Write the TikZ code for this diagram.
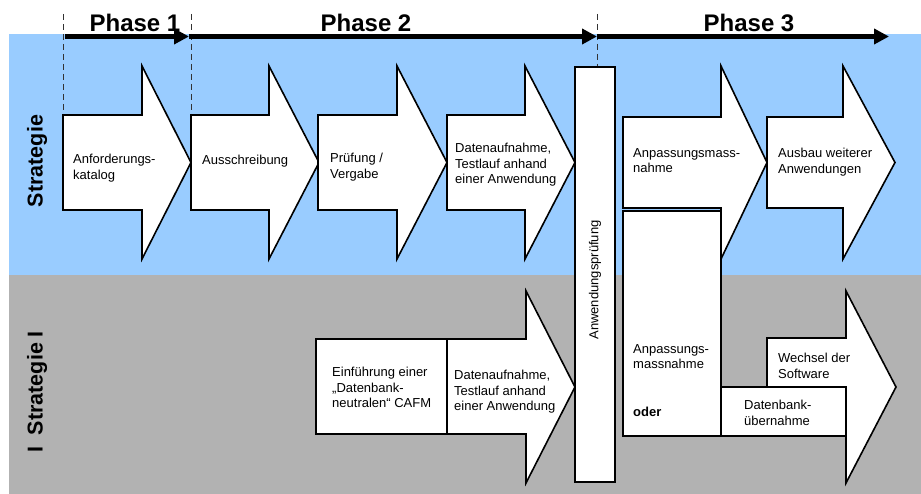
\documentclass[tikz,border=0pt]{standalone}
\usepackage{fontspec}
\setmainfont{Liberation Sans}
\usetikzlibrary{arrows.meta}
\definecolor{bandblue}{HTML}{99CCFF}
\definecolor{bandgray}{HTML}{B2B2B2}
\begin{document}
\begin{tikzpicture}[x=1pt,y=-1pt,
  outline/.style={draw=black, line width=1.6pt, fill=white, line join=miter},
  celltext/.style={anchor=north west, inner sep=0pt, align=left, font=\fontsize{13}{15.5}\selectfont},
  phasetext/.style={anchor=base, inner sep=0pt, font=\fontsize{24}{28}\selectfont\bfseries},
  rowtext/.style={inner sep=0pt, rotate=90, font=\fontsize{21.5}{25}\selectfont\bfseries},
  phasearrow/.style={line width=5pt, -{Triangle[length=15pt,width=15pt]}},
  guide/.style={line width=0.6pt, dash pattern=on 6pt off 4pt, draw=black!80}
]
\useasboundingbox (0,0) rectangle (921,494);
% background bands
\fill[bandblue] (9,34) rectangle (921,275);
\fill[bandgray] (9,275) rectangle (921,494);
% guide lines
\draw[guide] (63,14) -- (63,115);
\draw[guide] (191,14) -- (191,115);
\draw[guide] (597,14) -- (597,67);
% phase arrows
\coordinate (p0) at (65,36.5);
\coordinate (p1) at (189,36.5);
\coordinate (p2) at (597,36.5);
\coordinate (p3) at (889,36.5);
\draw[phasearrow] (p0) -- (p1);
\draw[phasearrow] (p1) -- (p2);
\draw[phasearrow] (p2) -- (p3);
\node[phasetext] (ph1) at (135,31.5) {Phase 1};
\node[phasetext] (ph2) at (366,31.5) {Phase 2};
\node[phasetext] (ph3) at (749,31.5) {Phase 3};
% row labels
\node[rowtext] (row1) at (37,161) {Strategie};
\node[rowtext] (row2) at (37,392) {I~~Strategie I};
% strategie row arrows
\draw[outline] (63,115) -- (142,115) -- (142,66) -- (191,162.5) -- (142,259) -- (142,210) -- (63,210) -- cycle;
\draw[outline] (191,115) -- (269,115) -- (269,66) -- (319,162.5) -- (269,259) -- (269,210) -- (191,210) -- cycle;
\draw[outline] (318,115) -- (397,115) -- (397,66) -- (447,162.5) -- (397,259) -- (397,210) -- (318,210) -- cycle;
\draw[outline] (447,115) -- (525,115) -- (525,66) -- (575,162.5) -- (525,259) -- (525,210) -- (447,210) -- cycle;
\draw[outline] (623,117) -- (721,117) -- (721,66) -- (767,162.5) -- (721,259) -- (721,208) -- (623,208) -- cycle;
\draw[outline] (767,117) -- (843,117) -- (843,66) -- (895,162.5) -- (843,259) -- (843,208) -- (767,208) -- cycle;
% lower row
\draw[outline] (316,339) rectangle (447,434);
\draw[outline] (447,339) -- (526,339) -- (526,291) -- (575,387) -- (526,483) -- (526,434) -- (447,434) -- cycle;
\draw[outline] (767,338) -- (846,338) -- (846,291) -- (896,387) -- (846,483) -- (846,436) -- (767,436) -- cycle;
\draw[outline] (721,387) rectangle (846,436);
\draw[outline] (623,211) rectangle (721,436);
% vertical box
\draw[outline] (575,67) rectangle (615,482);
\node[inner sep=0pt, rotate=90, font=\fontsize{13}{15.5}\selectfont] (pruef) at (595,280) {Anwendungsprüfung};
% texts
\node[celltext] (t1) at (73,154) {Anforderungs-\\katalog};
\node[celltext] (t2) at (202,155) {Ausschreibung};
\node[celltext] (t3) at (330,153) {Prüfung /\\Vergabe};
\node[celltext] (t4) at (455,143) {Datenaufnahme,\\Testlauf anhand\\einer Anwendung};
\node[celltext] (t5) at (633,148) {Anpassungsmass-\\nahme};
\node[celltext] (t6) at (778,148) {Ausbau weiterer\\Anwendungen};
\node[celltext] (t7) at (332,367) {Einführung einer\\„Datenbank-\\neutralen“ CAFM};
\node[celltext] (t8) at (454,370) {Datenaufnahme,\\Testlauf anhand\\einer Anwendung};
\node[celltext] (t9) at (633,344) {Anpassungs-\\massnahme};
\node[celltext, font=\fontsize{13}{15.5}\selectfont\bfseries] (t10) at (633,406.7) {oder};
\node[celltext] (t11) at (778,353) {Wechsel der\\Software};
\node[celltext] (t12) at (744,400) {Datenbank-\\übernahme};
\end{tikzpicture}
\end{document}
